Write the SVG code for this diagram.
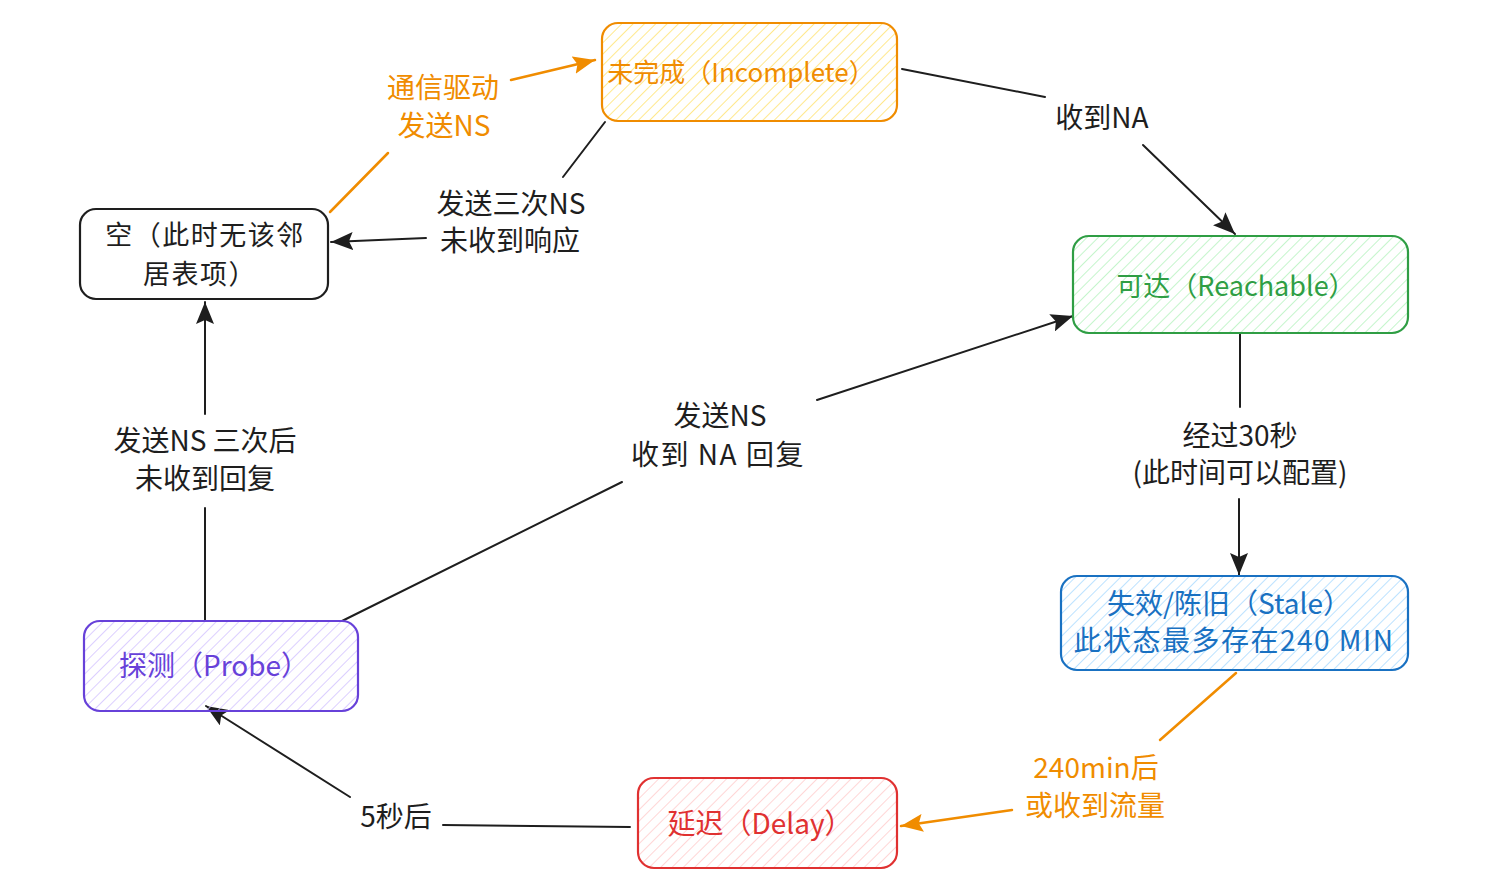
<svg xmlns="http://www.w3.org/2000/svg" width="1489" height="889" viewBox="0 0 1489 889">
<style>
  text { font-family: "Noto Sans CJK SC", "Noto Sans", sans-serif; font-size: 28px; text-anchor: middle; }
  .node { stroke-width: 2.2; stroke-linejoin: round; }
  .conn { fill: none; stroke: #1e1e1e; stroke-width: 2; stroke-linecap: round; }
  .conn-o { fill: none; stroke: #f08c00; stroke-width: 2.5; stroke-linecap: round; }
  .t-black { fill: #1e1e1e; }
  .t-orange { fill: #f08c00; }
  .t-green { fill: #2f9e44; }
  .t-blue { fill: #1971c2; }
  .t-purple { fill: #6741d9; }
  .t-red { fill: #e03131; }
  .wide { letter-spacing: 1.5px; }
</style>
<defs>
  <pattern id="h-yellow" width="8" height="8" patternUnits="userSpaceOnUse" patternTransform="rotate(45)">
    <line x1="0" y1="0" x2="0" y2="8" stroke="#ffe066" stroke-width="1.5"/>
  </pattern>
  <pattern id="h-green" width="8" height="8" patternUnits="userSpaceOnUse" patternTransform="rotate(45)">
    <line x1="0" y1="0" x2="0" y2="8" stroke="#b2f2bb" stroke-width="1.5"/>
  </pattern>
  <pattern id="h-blue" width="8" height="8" patternUnits="userSpaceOnUse" patternTransform="rotate(45)">
    <line x1="0" y1="0" x2="0" y2="8" stroke="#a5d8ff" stroke-width="1.5"/>
  </pattern>
  <pattern id="h-purple" width="8" height="8" patternUnits="userSpaceOnUse" patternTransform="rotate(45)">
    <line x1="0" y1="0" x2="0" y2="8" stroke="#d0bfff" stroke-width="1.5"/>
  </pattern>
  <pattern id="h-red" width="8" height="8" patternUnits="userSpaceOnUse" patternTransform="rotate(45)">
    <line x1="0" y1="0" x2="0" y2="8" stroke="#ffc9c9" stroke-width="1.5"/>
  </pattern>
  <marker id="arr-b" markerUnits="userSpaceOnUse" markerWidth="24" markerHeight="18" refX="22" refY="9" orient="auto">
    <path d="M0,0 L22,9 L0,18 L4,9 Z" fill="#1e1e1e"/>
  </marker>
  <marker id="arr-o" markerUnits="userSpaceOnUse" markerWidth="24" markerHeight="18" refX="22" refY="9" orient="auto">
    <path d="M0,0 L22,9 L0,18 L4,9 Z" fill="#f08c00"/>
  </marker>
</defs>

<g id="connectors">
  <!-- 空 -> 未完成 (orange) -->
  <path class="conn-o" d="M330,212 L388,153"/>
  <path class="conn-o" d="M511,80 L595,60" marker-end="url(#arr-o)"/>
  <text class="t-orange" x="443" y="98">通信驱动</text>
  <text class="t-orange" x="444" y="136">发送NS</text>

  <!-- 未完成 -> 空 -->
  <path class="conn" d="M605,122 L563,177"/>
  <path class="conn" d="M426,238 L331,242" marker-end="url(#arr-b)"/>
  <text class="t-black" x="511" y="214">发送三次NS</text>
  <text class="t-black" x="510" y="251">未收到响应</text>

  <!-- 未完成 -> 可达 -->
  <path class="conn" d="M902,69 L1045,97"/>
  <path class="conn" d="M1143,145 L1235,234" marker-end="url(#arr-b)"/>
  <text class="t-black" x="1102" y="128">收到NA</text>

  <!-- 可达 -> 失效 -->
  <path class="conn" d="M1240,334 L1240,407"/>
  <path class="conn" d="M1239,499 L1239,575" marker-end="url(#arr-b)"/>
  <text class="t-black" x="1240" y="446">经过30秒</text>
  <text class="t-black" x="1240" y="483">(此时间可以配置)</text>

  <!-- 失效 -> 延迟 (orange) -->
  <path class="conn-o" d="M1236,673 L1160,740"/>
  <path class="conn-o" d="M1012,810 L901,826" marker-end="url(#arr-o)"/>
  <text class="t-orange" x="1096" y="778">240min后</text>
  <text class="t-orange" x="1095" y="816">或收到流量</text>

  <!-- 延迟 -> 探测 -->
  <path class="conn" d="M630,827 L443,825"/>
  <path class="conn" d="M350,797 L206,706" marker-end="url(#arr-b)"/>
  <text class="t-black" x="396" y="827">5秒后</text>

  <!-- 探测 -> 空 -->
  <path class="conn" d="M205,621 L205,508"/>
  <path class="conn" d="M205,414 L205,302" marker-end="url(#arr-b)"/>
  <text class="t-black" x="205" y="451">发送NS 三次后</text>
  <text class="t-black" x="205" y="489">未收到回复</text>

  <!-- 探测 -> 可达 -->
  <path class="conn" d="M342,621 L622,482"/>
  <path class="conn" d="M817,400 L1073,316" marker-end="url(#arr-b)"/>
  <text class="t-black" x="720" y="426">发送NS</text>
  <text class="t-black wide" x="718" y="465">收到 NA 回复</text>
</g>

<g id="node-empty">
  <rect class="node" x="80" y="209" width="248" height="90" rx="16" fill="#ffffff" stroke="#1e1e1e"/>
  <text class="t-black wide" x="205" y="245" style="font-size:27px">空（此时无该邻</text>
  <text class="t-black wide" x="200" y="284" style="font-size:27px">居表项）</text>
</g>

<g id="node-incomplete">
  <rect class="node" x="602" y="23" width="295" height="98" rx="16" fill="url(#h-yellow)" stroke="#f08c00"/>
  <text class="t-orange" x="741" y="82" style="font-size:26px">未完成（Incomplete）</text>
</g>

<g id="node-reachable">
  <rect class="node" x="1073" y="236" width="335" height="97" rx="16" fill="url(#h-green)" stroke="#2f9e44"/>
  <text class="t-green" x="1236" y="296" style="font-size:27px">可达（Reachable）</text>
</g>

<g id="node-stale">
  <rect class="node" x="1061" y="576" width="347" height="94" rx="16" fill="url(#h-blue)" stroke="#1971c2"/>
  <text class="t-blue" x="1229" y="614">失效/陈旧（Stale）</text>
  <text class="t-blue wide" x="1234" y="651">此状态最多存在240 MIN</text>
</g>

<g id="node-probe">
  <rect class="node" x="84" y="621" width="274" height="90" rx="16" fill="url(#h-purple)" stroke="#6741d9"/>
  <text class="t-purple" x="214" y="676">探测（Probe）</text>
</g>

<g id="node-delay">
  <rect class="node" x="638" y="778" width="259" height="90" rx="16" fill="url(#h-red)" stroke="#e03131"/>
  <text class="t-red" x="760" y="834">延迟（Delay）</text>
</g>
</svg>
